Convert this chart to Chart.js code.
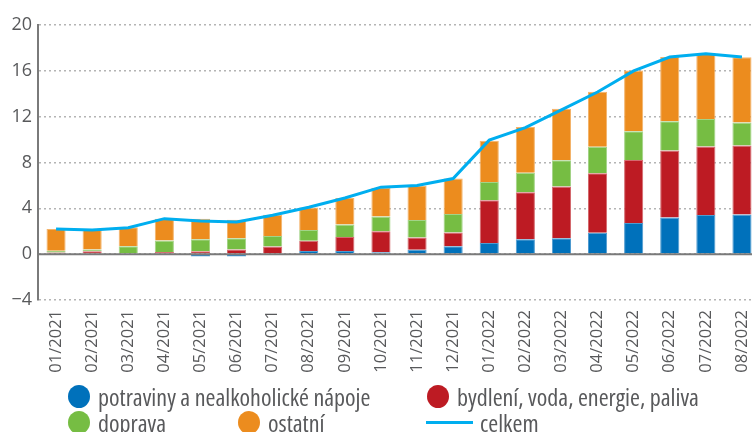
<!DOCTYPE html>
<html>
<head>
<meta charset="utf-8">
<script src="https://cdn.jsdelivr.net/npm/chart.js@4"></script>
<style>
  body { margin: 0; background: #fff; overflow: hidden; }
  #wrap { position: relative; width: 752px; height: 432px; overflow: hidden; }
  #legend { position: absolute; left: 0; top: 0; width: 752px; height: 432px; pointer-events: none;
    font-family: 'Open Sans', sans-serif; font-size: 24px; font-stretch: 87.5%; color: #58595b; }
  .item { position: absolute; display: flex; align-items: center; height: 26px; white-space: nowrap; }
  .dot { width: 22px; height: 23px; border-radius: 50%; margin-right: 8px; }
  .ln { width: 47px; height: 3px; margin-right: 7px; }
</style>
</head>
<body>
<div id="wrap">
  <canvas id="chart" width="760" height="432"></canvas>
  <div id="legend"></div>
</div>
<script>
// kategorie a hodnoty (p. b.)
const mesice = ['01/2021', '02/2021', '03/2021', '04/2021', '05/2021', '06/2021', '07/2021', '08/2021',
  '09/2021', '10/2021', '11/2021', '12/2021', '01/2022', '02/2022', '03/2022', '04/2022',
  '05/2022', '06/2022', '07/2022', '08/2022'];
const potraviny = [0.05, 0.05, -0.05, 0.05, -0.2, -0.2, 0.05, 0.28, 0.28, 0.17, 0.38, 0.7,
  0.98, 1.3, 1.4, 1.87, 2.72, 3.2, 3.42, 3.47];
const bydleni = [0.1, 0.2, 0.05, 0.15, 0.25, 0.4, 0.63, 0.9, 1.22, 1.82, 1.08, 1.2,
  3.72, 4.1, 4.5, 5.2, 5.5, 5.85, 5.98, 6.02];
const doprava = [0.15, 0.15, 0.65, 1.0, 1.05, 1.0, 0.9, 0.92, 1.1, 1.3, 1.52, 1.6,
  1.6, 1.7, 2.3, 2.3, 2.5, 2.55, 2.4, 2.0];
const ostatni = [1.9, 1.7, 1.65, 1.9, 1.8, 1.6, 1.85, 1.98, 2.3, 2.5, 3.0, 3.1,
  3.6, 4.0, 4.5, 4.8, 5.3, 5.6, 5.7, 5.7];
const celkem = [2.2, 2.1, 2.3, 3.1, 2.9, 2.8, 3.4, 4.1, 4.9, 5.85, 6.0, 6.6,
  9.95, 11.05, 12.6, 14.15, 16.0, 17.2, 17.5, 17.2];
const yTicks = [-4, 0, 4, 8, 12, 16, 20];

const font = "'Open Sans', sans-serif";
const textColor = '#58595b';

function bar(label, data, color, edge) {
    return {
        type: 'bar', label: label, data: data, backgroundColor: color,
        borderColor: edge, borderWidth: 1, stack: 'slozky', order: 1,
        barPercentage: 0.53, categoryPercentage: 1.0
    };
}

// nulova linie pres graf
const zeroLine = {
    id: 'zeroLine',
    afterDatasetsDraw(chart) {
        const y = chart.scales.y.getPixelForValue(0);
        const ctx = chart.ctx;
        ctx.save();
        ctx.strokeStyle = '#7a7a7a';
        ctx.lineWidth = 2;
        ctx.beginPath();
        ctx.moveTo(chart.chartArea.left, y);
        ctx.lineTo(chart.chartArea.right, y);
        ctx.stroke();
        ctx.restore();
    }
};

const ctx = document.getElementById('chart').getContext('2d');
const chart = new Chart(ctx, {
    data: {
        labels: mesice,
        datasets: [
            bar('potraviny a nealkoholické nápoje', potraviny, '#0071bb', '#4f9bd0'),
            bar('bydlení, voda, energie, paliva', bydleni, '#bd1b23', '#d46a6f'),
            bar('doprava', doprava, '#76bd43', '#a3d387'),
            bar('ostatní', ostatni, '#ec8c1e', '#f3b46c'),
            {
                type: 'line', label: 'celkem', data: celkem, borderColor: '#00aeef',
                borderWidth: 3, pointRadius: 0, tension: 0, fill: false, stack: 'celkem', order: 0
            }
        ]
    },
    options: {
        responsive: false,
        animation: false,
        layout: { padding: { top: 25, bottom: 58, left: 0, right: 0 } },
        plugins: { legend: { display: false }, tooltip: { enabled: false } },
        scales: {
            x: {
                stacked: true,
                grid: { display: false, drawTicks: false },
                border: { display: false },
                ticks: {
                    color: textColor, font: { family: font, size: 16.5 },
                    minRotation: 90, maxRotation: 90, padding: 10
                },
                afterFit(scale) {
                    scale.height = 74;
                    scale.paddingLeft = 0;
                    scale.paddingRight = 0;
                }
            },
            y: {
                stacked: true,
                min: -4, max: 20,
                afterBuildTicks(scale) { scale.ticks = yTicks.map(v => ({ value: v })); },
                grid: { color: '#b4b4b4', lineWidth: 1.5, drawTicks: false },
                border: { display: true, color: '#7a7a7a', width: 2, dash: [2, 3] },
                ticks: {
                    color: textColor, font: { family: font, size: 18 }, padding: 6,
                    callback: v => String(v).replace('-', '\u2212')
                },
                afterFit(scale) { scale.width = 38; }
            }
        }
    },
    plugins: [zeroLine]
});

// legenda
const legend = document.getElementById('legend');
const pos = [
    { x: 68, y: 383 }, { x: 427, y: 383 },
    { x: 68, y: 409 }, { x: 238, y: 409 }, { x: 426, y: 409 }
];
chart.data.datasets.forEach((ds, i) => {
    const el = document.createElement('div');
    el.className = 'item';
    el.style.left = pos[i].x + 'px';
    el.style.top = pos[i].y + 'px';
    const mark = document.createElement('span');
    if (ds.type === 'line') {
        mark.className = 'ln';
        mark.style.background = ds.borderColor;
    } else {
        mark.className = 'dot';
        mark.style.background = ds.backgroundColor;
    }
    el.appendChild(mark);
    el.appendChild(document.createTextNode(ds.label));
    legend.appendChild(el);
});
</script>
</body>
</html>
